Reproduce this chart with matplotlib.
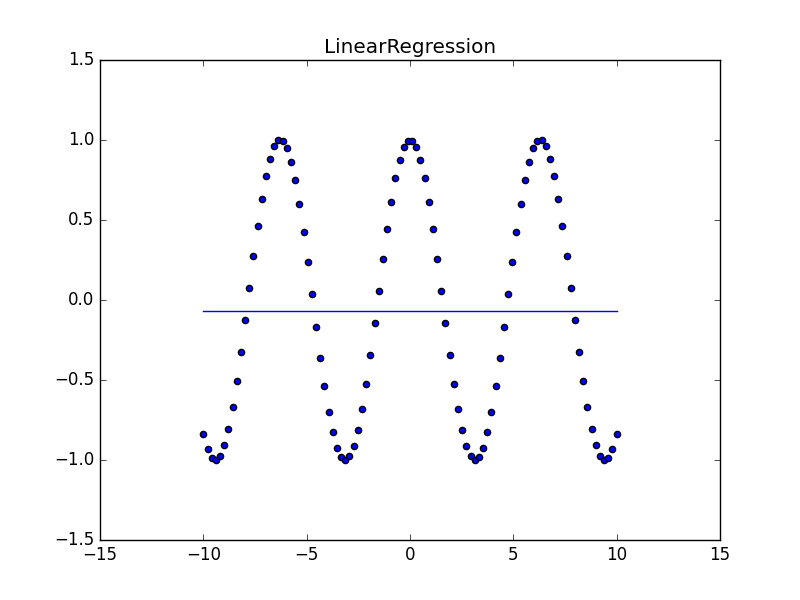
import numpy as np
import matplotlib
matplotlib.use('Agg')
import matplotlib.pyplot as plt

plt.style.use('classic')

# sample points (100 points evenly spaced on [-10, 10])
x = np.linspace(-10, 10, 100)
half = [-0.839, -0.931, -0.985, -1.000, -0.973, -0.907, -0.804, -0.668, -0.506, -0.322,
        -0.126, 0.076, 0.274, 0.462, 0.629, 0.773, 0.884, 0.961, 0.997, 0.993,
        0.948, 0.865, 0.747, 0.598, 0.426, 0.235, 0.036, -0.166, -0.360, -0.540,
        -0.698, -0.828, -0.922, -0.982, -1.000, -0.977, -0.914, -0.815, -0.682, -0.522,
        -0.341, -0.146, 0.056, 0.255, 0.444, 0.614, 0.760, 0.875, 0.954, 0.995]
y = half + half[::-1]

# fitted regression line
fit_x = [-10, 10]
fit_y = [-0.066, -0.066]

fig = plt.figure(figsize=(8, 6), dpi=100)
plt.scatter(x, y, c='b', s=20)
plt.plot(fit_x, fit_y, 'b-')
plt.title('LinearRegression')
plt.xlim(-15, 15)
plt.ylim(-1.5, 1.5)
plt.savefig('out.png', dpi=100)
